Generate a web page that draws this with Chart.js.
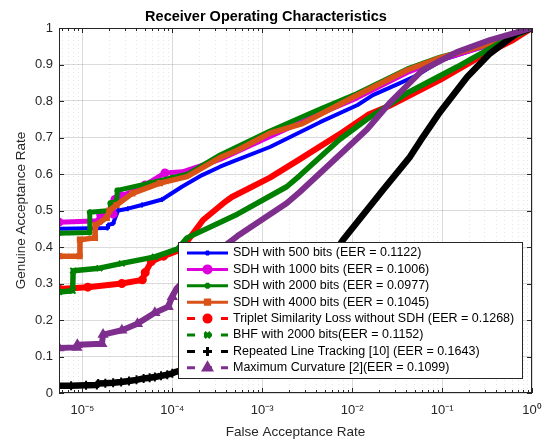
<!DOCTYPE html>
<html>
<head>
<meta charset="utf-8">
<script src="https://cdn.jsdelivr.net/npm/chart.js@4.4.1/dist/chart.umd.min.js"></script>
<style>
  html, body { margin: 0; padding: 0; background: #fff; }
  canvas { display: block; }
</style>
</head>
<body>
<canvas id="roc" width="555" height="442"></canvas>
<script>
// values (FAR on log axis, GAR linear)
const seriesLabels = [
    'SDH with 500 bits (EER = 0.1122)',
    'SDH with 1000 bits (EER = 0.1006)',
    'SDH with 2000 bits (EER = 0.0977)',
    'SDH with 4000 bits (EER = 0.1045)',
    'Triplet Similarity Loss without SDH (EER = 0.1268)',
    'BHF with 2000 bits(EER = 0.1152)',
    'Repeated Line Tracking [10] (EER = 0.1643)',
    'Maximum Curvature [2](EER = 0.1099)'
];

const sdh500Far = [5.5e-6, 1.9e-5, 1.95e-5, 2.2e-5, 2.5e-5, 3.2e-5, 4.6e-5, 7.7e-5, 1.28e-4, 2.15e-4, 3.4e-4, 4.6e-4, 1.22e-3, 4.4e-3, 1.15e-2, 1.7e-2, 3.4e-2, 5.2e-2, 0.1, 0.26, 0.6, 1];
const sdh500Gar = [0.45, 0.452, 0.46, 0.465, 0.50, 0.505, 0.515, 0.53, 0.565, 0.597, 0.62, 0.633, 0.674, 0.742, 0.789, 0.816, 0.849, 0.87, 0.912, 0.945, 0.978, 1.0];

const sdh1000Far = [5.5e-6, 1.55e-5, 1.6e-5, 2.2e-5, 2.3e-5, 2.75e-5, 5e-5, 8.3e-5, 1.3e-4, 3.4e-4, 1.22e-3, 4.4e-3, 1.12e-2, 4.1e-2, 9.5e-2, 0.44, 1];
const sdh1000Gar = [0.468, 0.472, 0.488, 0.49, 0.53, 0.54, 0.57, 0.603, 0.606, 0.64, 0.703, 0.765, 0.808, 0.878, 0.913, 0.963, 1.0];

const sdh2000Far = [5.5e-6, 1.2e-5, 1.21e-5, 2.03e-5, 2.05e-5, 2.4e-5, 2.45e-5, 5.6e-5, 1.0e-4, 1.5e-4, 3.4e-4, 1.22e-3, 4.4e-3, 1.12e-2, 4.1e-2, 9.5e-2, 0.44, 1];
const sdh2000Gar = [0.438, 0.44, 0.495, 0.50, 0.52, 0.525, 0.555, 0.575, 0.59, 0.60, 0.652, 0.718, 0.778, 0.82, 0.888, 0.92, 0.964, 1.0];

const sdh4000Far = [5.5e-6, 9.3e-6, 9.4e-6, 1.38e-5, 1.4e-5, 1.87e-5, 2.0e-5, 2.4e-5, 3.6e-5, 7.3e-5, 1.46e-4, 3.4e-4, 5.3e-4, 1.22e-3, 2.8e-3, 1.12e-2, 4.1e-2, 9.5e-2, 0.44, 1];
const sdh4000Gar = [0.375, 0.375, 0.42, 0.425, 0.46, 0.48, 0.50, 0.515, 0.547, 0.575, 0.593, 0.645, 0.665, 0.712, 0.738, 0.815, 0.885, 0.918, 0.965, 1.0];

const tripletFar = [5.5e-6, 1.15e-5, 2.75e-5, 4.65e-5, 5.0e-5, 5.85e-5, 8e-5, 1.15e-4, 1.46e-4, 2.2e-4, 3.7e-4, 4.6e-4, 1.22e-3, 2.6e-3, 7.9e-3, 1.5e-2, 2.6e-2, 9.5e-2, 0.263, 0.615, 1];
const tripletGar = [0.285, 0.29, 0.30, 0.31, 0.33, 0.36, 0.375, 0.39, 0.415, 0.474, 0.52, 0.537, 0.59, 0.64, 0.715, 0.762, 0.787, 0.858, 0.921, 0.967, 1.0];

const bhfFar = [5.5e-6, 7.8e-6, 7.9e-6, 1.55e-5, 2.75e-5, 6.4e-5, 1.15e-4, 1.46e-4, 5.3e-4, 1.87e-3, 2.6e-3, 7.3e-3, 1.46e-2, 4.1e-2, 0.146, 0.44, 1];
const bhfGar = [0.277, 0.28, 0.335, 0.342, 0.355, 0.373, 0.395, 0.425, 0.49, 0.565, 0.595, 0.695, 0.75, 0.822, 0.893, 0.959, 1.0];

const lineTrackFar = [5.5e-6, 7.5e-6, 1.1e-5, 1.45e-5, 1.5e-5, 1.8e-5, 2.2e-5, 2.7e-5, 3.3e-5, 4e-5, 4.8e-5, 5.6e-5, 6.4e-5, 7.5e-5, 8.8e-5, 1e-4, 1.1e-4, 3e-4, 1e-3, 3e-3, 5.5e-3, 7.9e-3, 2.2e-2, 4.4e-2, 5.7e-2, 9.5e-2, 0.19, 0.34, 0.68, 1];
const lineTrackGar = [0.02, 0.02, 0.021, 0.022, 0.026, 0.027, 0.028, 0.03, 0.033, 0.036, 0.04, 0.042, 0.044, 0.047, 0.05, 0.054, 0.058, 0.09, 0.16, 0.28, 0.36, 0.419, 0.556, 0.647, 0.69, 0.77, 0.866, 0.93, 0.986, 1.0];

const maxCurvFar = [5.5e-6, 8.7e-6, 8.8e-6, 1.65e-5, 1.7e-5, 2.75e-5, 4.1e-5, 6.4e-5, 9e-5, 1.0e-4, 1.12e-4, 2.0e-4, 5.3e-4, 1.87e-3, 2.6e-3, 1.46e-2, 2.6e-2, 6.1e-2, 0.146, 0.34, 1];
const maxCurvGar = [0.123, 0.125, 0.132, 0.135, 0.16, 0.172, 0.19, 0.22, 0.236, 0.264, 0.287, 0.35, 0.43, 0.52, 0.55, 0.722, 0.794, 0.885, 0.934, 0.967, 1.0];

const farValues = [sdh500Far, sdh1000Far, sdh2000Far, sdh4000Far, tripletFar, bhfFar, lineTrackFar, maxCurvFar];
const garValues = [sdh500Gar, sdh1000Gar, sdh2000Gar, sdh4000Gar, tripletGar, bhfGar, lineTrackGar, maxCurvGar];

const xTickValues = [1e-5, 1e-4, 1e-3, 1e-2, 1e-1, 1];
const xTickLabels = ['10\u207B\u2075', '10\u207B\u2074', '10\u207B\u00B3', '10\u207B\u00B2', '10\u207B\u00B9', '10\u2070'];
const farMin = 5.5e-6;

// styling
const colors = ['#0000ff', '#dd00dd', '#008000', '#d95319', '#ff0000', '#008000', '#000000', '#7e2f8e'];
const widths = [4, 5, 5, 5.5, 6, 5.5, 6.5, 6];
const markers = ['cross', 'circle', 'star', 'rect', 'circle', 'crossRot', 'cross', 'triangle'];
const markerSize = [2.5, 3.5, 3, 3, 3.5, 4, 4.5, 4.5];
const dashed = [false, false, false, false, true, true, true, true];
const fontFamily = '"Liberation Sans", Arial, Helvetica, sans-serif';

function isDecade(v) {
    const l = Math.log10(v);
    return Math.abs(l - Math.round(l)) < 1e-6;
}

// 1..9 x 10^k grid inside the axis range
const gridTicks = [];
for (let e = -6; e <= 0; e++) {
    for (let n = 1; n <= 9; n++) {
        const v = n * Math.pow(10, e);
        if (v >= farMin && v <= 1) gridTicks.push(v);
    }
}

const datasets = seriesLabels.map((label, i) => ({
    label: label,
    data: farValues[i].map((f, j) => ({x: f, y: garValues[i][j]})),
    borderColor: colors[i],
    backgroundColor: colors[i],
    borderWidth: widths[i],
    borderJoinStyle: 'round',
    borderCapStyle: 'round',
    tension: 0,
    fill: false,
    pointStyle: markers[i],
    pointRadius: c => (c.raw && c.raw.x < 1.1e-4 ? markerSize[i] : 0),
    pointBorderWidth: 2,
    pointBorderColor: colors[i],
    pointBackgroundColor: colors[i],
    order: seriesLabels.length - i
}));

const boxPlugin = {
    id: 'matlabBox',
    afterDatasetsDraw(chart) {
        const {ctx, chartArea: a, scales} = chart;
        ctx.save();
        ctx.strokeStyle = '#262626';
        ctx.lineWidth = 1;
        ctx.strokeRect(a.left + 0.5, a.top + 0.5, a.right - a.left - 1, a.bottom - a.top - 1);
        ctx.beginPath();
        scales.x.ticks.forEach(t => {
            const px = Math.round(scales.x.getPixelForValue(t.value)) + 0.5;
            const len = isDecade(t.value) ? 5 : 3;
            ctx.moveTo(px, a.bottom); ctx.lineTo(px, a.bottom - len);
            ctx.moveTo(px, a.top); ctx.lineTo(px, a.top + len);
        });
        scales.y.ticks.forEach(t => {
            const py = Math.round(scales.y.getPixelForValue(t.value)) + 0.5;
            ctx.moveTo(a.left, py); ctx.lineTo(a.left + 5, py);
            ctx.moveTo(a.right, py); ctx.lineTo(a.right - 5, py);
        });
        ctx.stroke();
        ctx.restore();
    }
};

const legendPlugin = {
    id: 'rocLegend',
    afterDraw(chart) {
        const ctx = chart.ctx;
        const bx = 178, by = 242, bw = 344, bh = 136;
        ctx.save();
        ctx.fillStyle = '#fff';
        ctx.fillRect(bx, by, bw, bh);
        ctx.strokeStyle = '#262626';
        ctx.lineWidth = 1;
        ctx.strokeRect(bx + 0.5, by + 0.5, bw, bh);
        ctx.font = '12.5px ' + fontFamily;
        ctx.textBaseline = 'middle';
        chart.data.datasets.forEach((ds, i) => {
            const cy = by + 11 + i * 16.4;
            ctx.strokeStyle = ds.borderColor;
            ctx.fillStyle = ds.borderColor;
            ctx.lineWidth = 3;
            ctx.setLineDash(dashed[i] ? [8, 9] : []);
            ctx.beginPath();
            ctx.moveTo(187, cy);
            ctx.lineTo(228, cy);
            ctx.stroke();
            ctx.setLineDash([]);
            if (Chart.helpers && Chart.helpers.drawPoint) {
                Chart.helpers.drawPoint(ctx, {pointStyle: markers[i], radius: markerSize[i], borderWidth: 2}, 207.5, cy);
            }
            ctx.fillStyle = '#000';
            ctx.fillText(ds.label, 233, cy);
        });
        ctx.restore();
    }
};

new Chart(document.getElementById('roc'), {
    type: 'line',
    data: {datasets: datasets},
    options: {
        responsive: false,
        animation: false,
        layout: {padding: {left: 0, right: 23, top: 0, bottom: 0}},
        plugins: {
            legend: {display: false},
            tooltip: {enabled: false},
            title: {
                display: true,
                text: 'Receiver Operating Characteristics',
                color: '#000',
                font: {family: fontFamily, size: 14.5, weight: 'bold'},
                padding: {top: 8, bottom: 2.6}
            }
        },
        scales: {
            x: {
                type: 'logarithmic',
                min: farMin,
                max: 1,
                afterBuildTicks: s => { s.ticks = gridTicks.map(v => ({value: v})); },
                afterFit: s => { s.height = 49; },
                grid: {
                    drawTicks: false,
                    color: c => (c.tick && isDecade(c.tick.value) ? 'rgba(0,0,0,0.14)' : 'rgba(0,0,0,0.10)')
                },
                border: {
                    display: false,
                    dash: c => (c.tick && !isDecade(c.tick.value) ? [1, 3] : [])
                },
                ticks: {
                    autoSkip: false,
                    maxRotation: 0,
                    padding: 10,
                    color: '#262626',
                    font: {family: fontFamily, size: 13},
                    callback: v => {
                        const k = xTickValues.findIndex(t => Math.abs(Math.log10(t) - Math.log10(v)) < 1e-6);
                        return k >= 0 ? xTickLabels[k] : '';
                    }
                },
                title: {
                    display: true,
                    text: 'False Acceptance Rate',
                    color: '#262626',
                    font: {family: fontFamily, size: 13.5},
                    padding: {top: 0, bottom: 2}
                }
            },
            y: {
                min: 0,
                max: 1,
                afterFit: s => { s.width = 59; },
                grid: {drawTicks: false, color: 'rgba(0,0,0,0.14)'},
                border: {display: false},
                ticks: {
                    stepSize: 0.1,
                    padding: 6,
                    color: '#262626',
                    font: {family: fontFamily, size: 13},
                    callback: v => String(Math.round(v * 10) / 10)
                },
                title: {
                    display: true,
                    text: 'Genuine Acceptance Rate',
                    color: '#262626',
                    font: {family: fontFamily, size: 13.5},
                    padding: {top: 13, bottom: 0}
                }
            }
        }
    },
    plugins: [boxPlugin, legendPlugin]
});
</script>
</body>
</html>
